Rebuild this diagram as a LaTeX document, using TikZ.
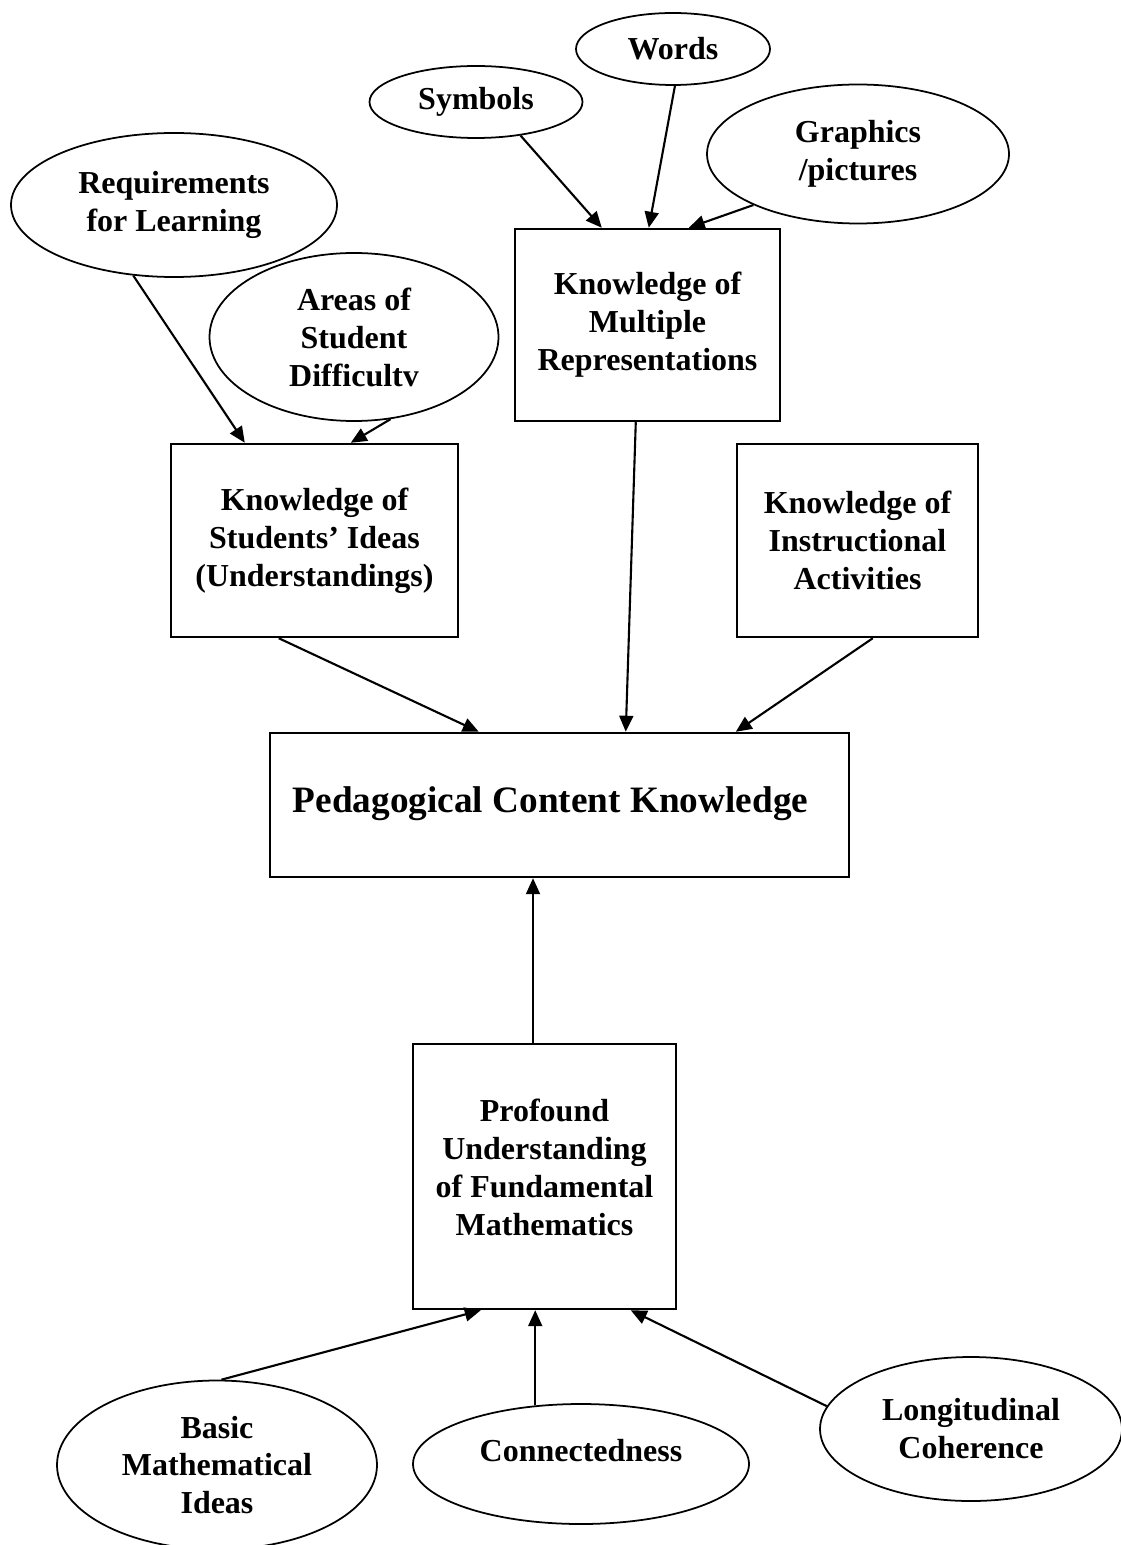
\documentclass[tikz,border=0pt]{standalone}
\usepackage{fontspec}
\setmainfont{Liberation Serif}
\usetikzlibrary{shapes}
\usetikzlibrary{arrows.meta}

\begin{document}
\begin{tikzpicture}
  \tikzstyle{box}=[rectangle,draw=black,line width=0.7pt,align=center,inner sep=0pt,font=\fontsize{9.1}{10.8}\selectfont\bfseries]
  \tikzstyle{bubble}=[ellipse,draw=black,line width=0.5pt,align=center,inner sep=0pt,font=\fontsize{9.1}{10.8}\selectfont\bfseries]
  \tikzstyle{feed}=[-{Triangle[length=1.6mm,width=1.4mm]},line width=0.6pt]

  \useasboundingbox (0,0) rectangle (11.2,-15.45);

  % representations
  \node[bubble,minimum width=1.94cm,minimum height=0.72cm] at (6.73,-0.49) (words)   {Words};
  \node[bubble,minimum width=2.13cm,minimum height=0.72cm] at (4.76,-1.02) (symbols) {Symbols};
  \node[bubble,minimum width=3.02cm,minimum height=1.39cm] at (8.58,-1.54) (graphics) {Graphics\\/pictures};
  \node[box,minimum width=2.65cm,minimum height=1.92cm]    at (6.475,-3.25) (kmr)   {Knowledge of\\Multiple\\Representations};

  % students
  \node[bubble,minimum width=3.26cm,minimum height=1.44cm] at (1.74,-2.05) (req)   {Requirements\\for Learning};
  \node[bubble,minimum width=2.89cm,minimum height=1.68cm] at (3.54,-3.37) (areas) {Areas of\\Student\\Difficultv};
  \node[box,minimum width=2.87cm,minimum height=1.93cm]    at (3.145,-5.405) (ksi) {Knowledge of\\Students’ Ideas\\(Understandings)};
  \node[box,minimum width=2.41cm,minimum height=1.93cm]    at (8.575,-5.405) (kia) {Knowledge of\\Instructional\\Activities};

  \node[box,minimum width=5.79cm,minimum height=1.44cm,text depth=1mm,font=\fontsize{10.6}{12.7}\selectfont\bfseries] at (5.595,-8.05) (pck) {Pedagogical Content Knowledge\hspace*{1.8mm}};

  % mathematics
  \node[box,minimum width=2.63cm,minimum height=2.65cm,text depth=1.8mm] at (5.445,-11.765) (pufm) {Profound\\Understanding\\of Fundamental\\Mathematics};
  \node[bubble,minimum width=3.20cm,minimum height=1.69cm] at (2.17,-14.65) (basic) {Basic\\Mathematical\\Ideas};
  \node[bubble,minimum width=3.36cm,minimum height=1.20cm,text depth=2.8mm] at (5.81,-14.64) (conn)  {Connectedness};
  \node[bubble,minimum width=3.02cm,minimum height=1.44cm] at (9.71,-14.29) (longi) {Longitudinal\\Coherence};

  \draw[feed] (symbols.-37)  -- ([xshift=8.8mm]kmr.north west);
  \draw[feed] (words.-87)    -- ([xshift=13.5mm]kmr.north west);
  \draw[feed] (graphics.-154) -- ([xshift=17.5mm]kmr.north west);

  \draw[feed] (req.-120)  -- ([xshift=7.5mm]ksi.north west);
  \draw[feed] (areas.-66) -- ([xshift=18.1mm]ksi.north west);

  \draw[feed] ([xshift=12.2mm]kmr.south west) -- ([xshift=35.7mm]pck.north west);
  \draw[feed] ([xshift=10.9mm]ksi.south west) -- ([xshift=21mm]pck.north west);
  \draw[feed] ([xshift=13.7mm]kia.south west) -- ([xshift=46.7mm]pck.north west);

  \coordinate (up) at ([xshift=-1.15mm]pufm.north);
  \draw[feed] (up) -- (up |- pck.south);

  \draw[feed] (basic.87)  -- ([xshift=6.9mm]pufm.south west);
  \draw[feed] (conn.128)  -- (conn.128 |- pufm.south);
  \draw[feed] (longi.171) -- ([xshift=21.9mm]pufm.south west);
\end{tikzpicture}
\end{document}
